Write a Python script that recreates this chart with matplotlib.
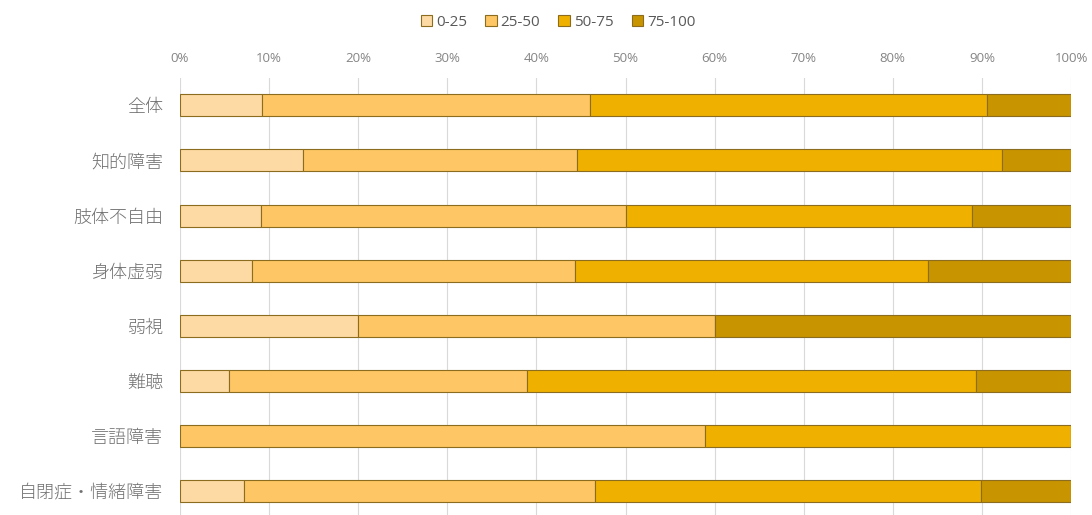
import numpy as np
import matplotlib.pyplot as plt
from matplotlib.ticker import PercentFormatter

plt.rcParams['font.family'] = ['Noto Sans CJK JP', 'DejaVu Sans']

categories = ["全体", "知的障害", "肢体不自由", "身体虚弱", "弱視", "難聴", "言語障害", "自閉症・情緒障害"]
series_names = ["0-25", "25-50", "50-75", "75-100"]
s0_25 = [9.2, 13.8, 9.1, 8.1, 20.0, 5.5, 0.0, 7.2]
s25_50 = [36.8, 30.8, 41.0, 36.2, 40.0, 33.4, 58.9, 39.4]
s50_75 = [44.6, 47.7, 38.8, 39.7, 0.0, 50.4, 41.1, 43.3]
s75_100 = [9.4, 7.7, 11.1, 16.0, 40.0, 10.7, 0.0, 10.1]

colors = ["#FDDAA4", "#FEC664", "#EFB000", "#C89500"]

fig = plt.figure(figsize=(10.92, 5.15), dpi=100)
ax = fig.add_axes([180 / 1092, -0.007, (1071 - 180) / 1092, 0.856])

y = np.arange(len(categories))
left = np.zeros(len(categories))
for name, vals, c in zip(series_names, [s0_25, s25_50, s50_75, s75_100], colors):
    vals = np.array(vals)
    ax.barh(y, vals, left=left, height=0.4, color=c, edgecolor="#8C6D1F",
            linewidth=0.8, label=name)
    left += vals

ax.set_xlim(0, 100)
ax.set_ylim(len(categories) - 0.5, -0.5)
ax.set_yticks(y)
ax.set_yticklabels(categories, fontsize=13, color="#707070", fontweight="light")
ax.set_xticks(np.arange(0, 101, 10))
ax.xaxis.set_major_formatter(PercentFormatter(decimals=0))
ax.xaxis.tick_top()
ax.tick_params(axis="x", labelsize=9.5, colors="#858585", length=0, pad=9)
ax.tick_params(axis="y", length=0, pad=12)
for lbl in ax.get_xticklabels():
    lbl.set_family("Open Sans")
ax.grid(axis="x", color="#D9D9D9", linewidth=0.8)
ax.set_axisbelow(True)
for s in ax.spines.values():
    s.set_visible(False)

fig.legend(loc="center", bbox_to_anchor=(0.511, 0.956), ncol=4, frameon=False,
           prop={"family": "Open Sans", "size": 11},
           handlelength=0.75, handleheight=0.75, handletextpad=0.25,
           columnspacing=1.2, labelcolor="#595959")

fig.savefig("out.png", dpi=100)
